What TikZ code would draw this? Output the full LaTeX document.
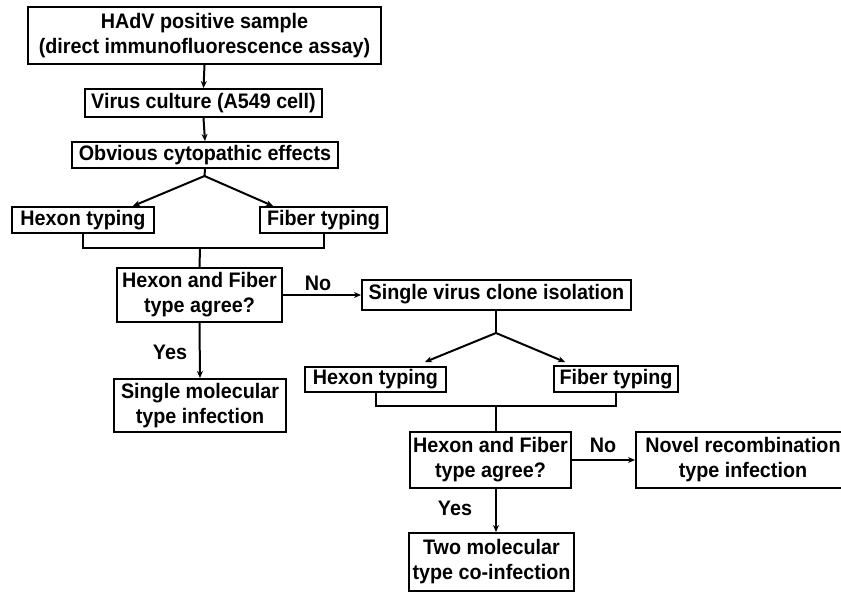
\documentclass[tikz,border=0pt]{standalone}
\usepackage{fontspec}
\setmainfont{Liberation Sans}[FakeStretch=0.94]
\usetikzlibrary{arrows.meta}
\begin{document}
\begin{tikzpicture}[x=1pt,y=-1pt,
  line width=2pt,
  box/.style={draw, rectangle, inner sep=0pt, align=center,
    font=\fontsize{21}{25}\selectfont\bfseries},
  lbl/.style={font=\fontsize{21}{25}\selectfont\bfseries, inner sep=0pt},
  arr/.style={-{Stealth[length=7pt,width=6pt]}}]
\useasboundingbox (0,0) rectangle (841,592);
% boxes
\node[box, minimum width=353pt, minimum height=57pt] (b1) at (204.5,35.5) {HAdV positive sample\\(direct immunofluorescence assay)};
\node[box, minimum width=237pt, minimum height=28pt] (b2) at (203.5,103) {Virus culture (A549 cell)};
\node[box, minimum width=266pt, minimum height=26pt] (b3) at (205,155) {Obvious cytopathic effects};
\node[box, minimum width=142pt, minimum height=26pt] (h1) at (83,220) {Hexon typing};
\node[box, minimum width=127pt, minimum height=26pt] (f1) at (323.5,220) {Fiber typing};
\node[box, minimum width=165pt, minimum height=54pt] (d1) at (199.5,295) {Hexon and Fiber\\type agree?};
\node[box, minimum width=172pt, minimum height=53pt] (s1) at (200,405.5) {Single molecular\\type infection};
\node[box, minimum width=269pt, minimum height=30pt] (sv) at (496.5,294.5) {Single virus clone isolation};
\node[box, minimum width=141pt, minimum height=25pt] (h2) at (375.5,379.5) {Hexon typing};
\node[box, minimum width=124pt, minimum height=26pt] (f2) at (616,379) {Fiber typing};
\node[box, minimum width=161pt, minimum height=56pt] (d2) at (490.5,460) {Hexon and Fiber\\type agree?};
\node[box, minimum width=214pt, minimum height=56pt] (nv) at (743,460) {Novel recombination\\type infection};
\node[box, minimum width=165pt, minimum height=58pt] (t2) at (491.5,562) {Two molecular\\type co-infection};
% coordinates
\coordinate (sp1) at (204.5,176);
\coordinate (tip1a) at (133,206);
\coordinate (tip1b) at (273,206);
\coordinate (j1) at (200,248);
\coordinate (sp2) at (496,333);
\coordinate (tip2a) at (425,362);
\coordinate (tip2b) at (565,362);
\coordinate (j2) at (496,406);
% connectors
\draw[arr] (b1.south) -- (b2.north);
\draw[arr] (b2.south) -- (b3.north);
\draw (b3.south) -- (sp1);
\draw[arr] (sp1) -- (tip1a);
\draw[arr] (sp1) -- (tip1b);
\draw (h1.south) |- (j1) -| (f1.south);
\draw (j1) -- (d1.north);
\draw[arr] (d1.east) -- (d1.east -| sv.west);
\draw[arr] (d1.south) -- (s1.north);
\draw (sv.south -| sp2) -- (sp2);
\draw[arr] (sp2) -- (tip2a);
\draw[arr] (sp2) -- (tip2b);
\draw (h2.south) |- (j2) -| (f2.south);
\draw (j2) -- (j2 |- d2.north);
\draw[arr] (d2.east) -- (nv.west);
\draw[arr] (d2.south -| j2) -- (t2.north -| j2);
% labels
\node[lbl] (no1) at (318,283) {No};
\node[lbl] (yes1) at (170,352) {Yes};
\node[lbl] (no2) at (603,445) {No};
\node[lbl] (yes2) at (455,508) {Yes};
\end{tikzpicture}
\end{document}
